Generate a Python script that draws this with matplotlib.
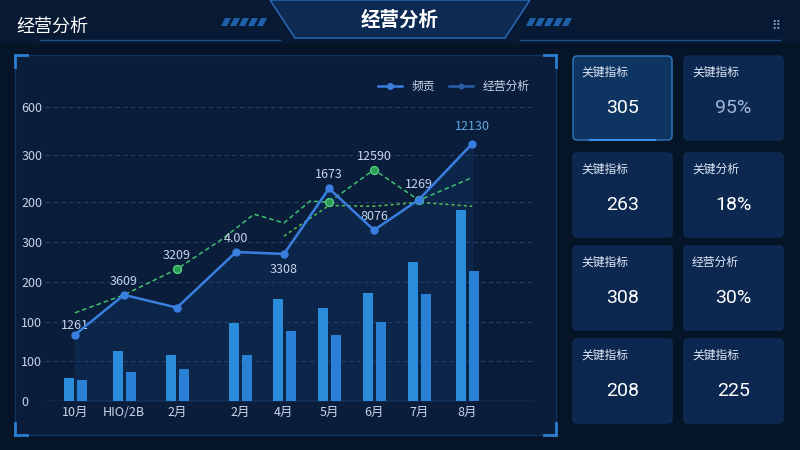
import matplotlib
matplotlib.use("Agg")
import matplotlib.pyplot as plt
import numpy as np
from matplotlib.patches import FancyBboxPatch, Rectangle, Polygon

plt.rcParams['font.family'] = ['Noto Sans CJK SC', 'DejaVu Sans']

categories = ['10月', 'HIO/2B', '2月', '2月', '4月', '5月', '6月', '7月', '8月']
x_pos = [75, 124, 177, 240, 284, 329, 374, 419, 467]
bar_a = [57, 125, 117, 197, 257, 235, 272, 350, 480]
bar_b = [52, 72, 80, 117, 175, 165, 200, 270, 327]
line_x = [75, 124, 177, 236, 284, 329, 374, 419, 472]
line_blue = [167, 267, 235, 375, 370, 535, 430, 507, 647]
green_x = [75, 124, 177, 222, 254, 284, 310, 329, 374, 419, 472]
green_a = [222, 267, 332, 407, 470, 448, 503, 500, 582, 505, 562]
green2_x = [284, 329, 374, 419, 472]
green2 = [415, 492, 490, 500, 490]
green_mark_x = [177, 329, 374, 419]
green_mark_y = [332, 500, 582, 505]
labels = ['1261', '3609', '3209', '4.00', '3308', '1673', '8076', '1269', '12130']
label_xy = [(75, 190), (124, 300), (177, 365), (236, 410), (284, 330), (329, 570), (374, 465), (419, 545), (472, 690)]
green_label = ('12590', 374, 615)
ytick_pos = [0, 100, 200, 300, 400, 500, 620, 740]
ytick_lab = ['0', '100', '100', '200', '300', '200', '300', '600']
cards = [('关键指标', '305'), ('关键指标', '95%'), ('关键指标', '263'), ('关键分析', '18%'),
         ('关键指标', '308'), ('经营分析', '30%'), ('关键指标', '208'), ('关键指标', '225')]

W, H = 800, 450
fig = plt.figure(figsize=(8, 4.5), dpi=100)
fig.patch.set_facecolor('#061428')

def fx(px): return px / W
def fy(py): return 1 - py / H

bg = fig.add_axes([0, 0, 1, 1]); bg.set_xlim(0, W); bg.set_ylim(H, 0); bg.axis('off')
bg.add_patch(Rectangle((0, 0), W, 42, color='#081a33'))
bg.add_patch(Polygon([[270, 0], [530, 0], [505, 38], [295, 38]], closed=True, fc='#0c2a52', ec='#2a6fc0', lw=1))
bg.plot([40, 280], [40, 40], color='#1d4f8c', lw=1)
bg.plot([520, 780], [40, 40], color='#1d4f8c', lw=1)
for i in range(5):
    bg.add_patch(Polygon([[225 + i * 9, 18], [231 + i * 9, 18], [227 + i * 9, 26], [221 + i * 9, 26]], fc='#1d5fa8'))
    bg.add_patch(Polygon([[530 + i * 9, 18], [536 + i * 9, 18], [532 + i * 9, 26], [526 + i * 9, 26]], fc='#1d5fa8'))
bg.text(16, 27, '经营分析', color='white', fontsize=13, va='center', ha='left')
bg.text(400, 20, '经营分析', color='white', fontsize=14, va='center', ha='center', fontweight='bold')
bg.text(776, 26, '⠿', color='#8fa8c8', fontsize=9, va='center', ha='center', family=['DejaVu Sans'])
bg.add_patch(Rectangle((15, 55), 541, 380, fc='#0a1d3a', ec='#123462', lw=1))
for (cx, cy, dx, dy) in [(15, 55, 1, 1), (556, 55, -1, 1), (15, 435, 1, -1), (556, 435, -1, -1)]:
    bg.plot([cx, cx + 12 * dx], [cy, cy], color='#2b7fd0', lw=2)
    bg.plot([cx, cx], [cy, cy + 12 * dy], color='#2b7fd0', lw=2)
cx0 = [573, 684]; cy0 = [56, 153, 246, 339]; cw, ch = 99, 84
for i, (t, v) in enumerate(cards):
    r, c = divmod(i, 2)
    x, y = cx0[c], cy0[r]
    ec = '#2f78c4' if i == 0 else '#0f2c55'
    fc = '#0e3462' if i == 0 else '#0c2850'
    bg.add_patch(FancyBboxPatch((x, y), cw, ch, boxstyle='round,pad=0,rounding_size=4', fc=fc, ec=ec, lw=1))
    bg.text(x + 8, y + 16, t, color='#dfe8f5', fontsize=8.5, va='center')
    col = '#9fb6d8' if i == 1 else 'white'
    bg.text(x + cw / 2, y + 52, v, color=col, fontsize=14, va='center', ha='center', family=['Roboto', 'DejaVu Sans'])
bg.plot([590, 655], [140, 140], color='#3aa0ff', lw=1.5, alpha=0.8)

ax = fig.add_axes([fx(45), fy(401), fx(535) - fx(45), fy(91) - fy(401)])
ax.set_facecolor('none')
ax.set_xlim(45, 535); ax.set_ylim(0, 780)
for s in ax.spines.values(): s.set_visible(False)
ax.axhline(0, color='#2a4f80', lw=1)
for yp in ytick_pos[1:]:
    ax.axhline(yp, color='#24406a', lw=0.8, ls=(0, (4, 3)))
ax.set_yticks(ytick_pos, ytick_lab)
ax.set_xticks(x_pos, categories)
ax.tick_params(colors='#c8d6ea', labelsize=9, length=0)
ax.tick_params(axis='y', pad=0)
for lab in ax.get_yticklabels():
    lab.set_horizontalalignment('left')
ax.tick_params(axis='y', pad=17)
bx = np.array(x_pos)
ax.bar(bx - 6.5, bar_a, width=10, color='#2a8ddc', zorder=2)
ax.bar(bx + 6.5, bar_b, width=10, color='#2a80d4', zorder=2)
ax.fill_between(line_x, line_blue, 0, color='#1f6fc0', alpha=0.12, zorder=1)
ax.plot(green_x, green_a, color='#3fc070', lw=1.1, ls=(0, (3, 2)), zorder=3)
ax.plot(green2_x, green2, color='#56c050', lw=1.1, ls=(0, (2, 2)), zorder=3)
ax.scatter(green_mark_x, green_mark_y, s=32, color='#2a9d55', edgecolor='#55d080', zorder=4)
ax.plot(line_x, line_blue, color='#3a7ee0', lw=1.8, marker='o', ms=5, zorder=5, label='频贡')
ax.plot([], [], color='#2b5ea8', lw=1.8, marker='o', ms=4, label='经营分析')
for t, (lx, ly) in zip(labels, label_xy):
    ax.text(lx, ly, t, color='#c8d6ea' if t != '12130' else '#5fa8e0', fontsize=9, ha='center', va='center')
ax.text(green_label[1], green_label[2], green_label[0], color='#c8d6ea', fontsize=9, ha='center', va='center')
ax.legend(loc='upper right', bbox_to_anchor=(1.01, 1.07), ncol=2, frameon=False,
          labelcolor='#c8d6ea', fontsize=8.5, handlelength=2, markerscale=0.8, columnspacing=1.2)

fig.savefig('out.png', dpi=100, facecolor=fig.get_facecolor())
